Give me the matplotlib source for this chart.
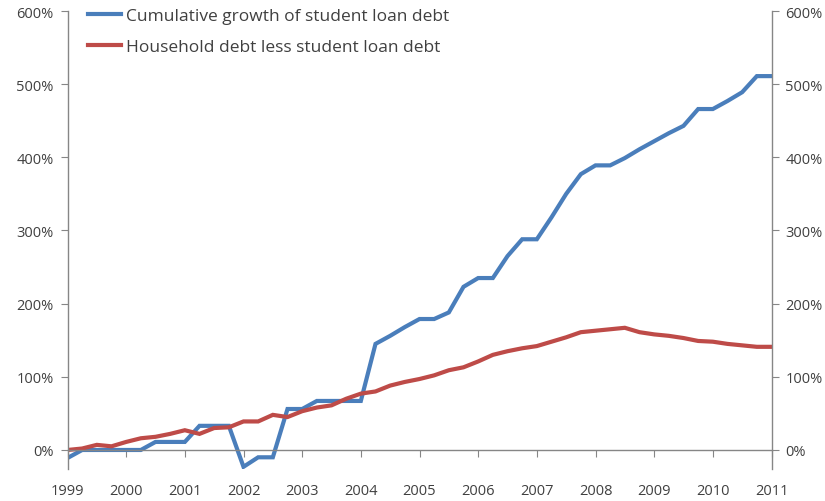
import numpy as np
import matplotlib.pyplot as plt
from matplotlib.ticker import FuncFormatter

# quarterly, 1999Q1 .. 2011Q1
student_loan = [-11, 0, 0, 0, 0, 0, 11, 11, 11, 33, 33, 33,
                -23, -10, -10, 56, 56, 67, 67, 67, 67, 145, 156, 168,
                179, 179, 188, 223, 235, 235, 265, 288, 288, 318, 350, 377,
                389, 389, 399, 411, 422, 433, 443, 466, 466, 477, 489, 511,
                511]
household_less = [0, 2, 7, 5, 11, 16, 18, 22, 27, 22, 30, 31,
                  39, 39, 48, 45, 53, 58, 61, 70, 77, 80, 88, 93,
                  97, 102, 109, 113, 121, 130, 135, 139, 142, 148, 154, 161,
                  163, 165, 167, 161, 158, 156, 153, 149, 148, 145, 143, 141,
                  141]
year_labels = [str(y) for y in range(1999, 2012)]

BLUE = "#4A7EBB"
RED = "#BE4B48"
GREY = "#868686"
TXT = "#404040"

plt.rcParams['font.family'] = ['Open Sans', 'DejaVu Sans']

x = 1999 + np.arange(len(student_loan)) / 4

fig = plt.figure(figsize=(8.25, 5.02), dpi=100)
ax = fig.add_axes([67.5 / 825, 1 - 470 / 502, (771.5 - 67.5) / 825, (470 - 12) / 502])

ax.plot(x, student_loan, color=BLUE, lw=3, label="Cumulative growth of student loan debt",
        solid_joinstyle='miter')
ax.plot(x, household_less, color=RED, lw=3, label="Household debt less student loan debt",
        solid_joinstyle='miter')

ax.set_xlim(1999, 2011)
ax.set_ylim(-26, 600)

ax.spines['top'].set_visible(False)
ax.spines['bottom'].set_position(('data', 0))
for s in ['left', 'right', 'bottom']:
    ax.spines[s].set_color(GREY)
    ax.spines[s].set_linewidth(1)

ax.set_xticks(range(1999, 2012))
ax.set_xticklabels(year_labels)
ax.set_yticks(range(0, 601, 100))
ax.yaxis.set_major_formatter(FuncFormatter(lambda v, p: f"{int(v)}%"))

ax.tick_params(axis='x', direction='out', length=5, color=GREY, pad=19,
               labelsize=10.5, labelcolor=TXT)
ax.tick_params(axis='y', direction='out', length=5, color=GREY, pad=5,
               labelsize=10.5, labelcolor=TXT, left=True, right=True,
               labelleft=True, labelright=True)

ax.legend(loc='upper left', bbox_to_anchor=(88 / 825, 1 - 9 / 502),
          bbox_transform=fig.transFigure, frameon=False, fontsize=12.5,
          handlelength=1.9, handletextpad=0.3, labelspacing=0.85,
          borderpad=0, borderaxespad=0, labelcolor=TXT)

fig.savefig("out.png", dpi=100)
